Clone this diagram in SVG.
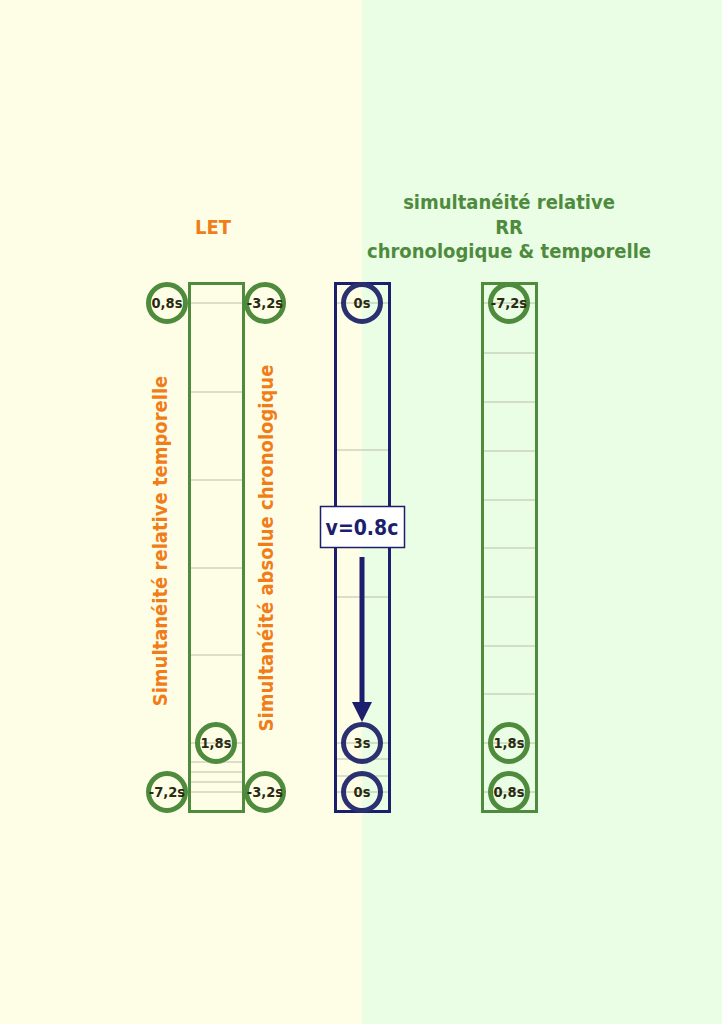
<svg xmlns="http://www.w3.org/2000/svg" width="722" height="1024" viewBox="0 0 722 1024">
<defs>
<style>
.g{fill:none;stroke:#4E8B3D;stroke-width:3}
.b{fill:none;stroke:#1C1F6E;stroke-width:3}
.tick{stroke:#B8C0A8;stroke-width:1}
.cg{fill:none;stroke:#4E8B3D;stroke-width:5}
.cb{fill:none;stroke:#2B3170;stroke-width:5}
.f{font-family:"DejaVu Sans Condensed","DejaVu Sans",Verdana,sans-serif;font-stretch:condensed;font-weight:bold;text-anchor:middle}
.lbl{font-size:14.5px;fill:#2A2A12}
.or{font-size:20px;fill:#F07D1A}
.gt{font-size:20px;fill:#4E8B3D}
</style>
<marker id="ah" markerWidth="4" markerHeight="4" refX="0" refY="2" orient="auto" markerUnits="strokeWidth">
<path d="M0,0 L4,2 L0,4 z" fill="#1C1F6E"/>
</marker>
</defs>
<rect x="0" y="0" width="362" height="1024" fill="#FEFEE6"/>
<rect x="362" y="0" width="360" height="1024" fill="#EAFDE5"/>

<text class="f or" x="213" y="234">LET</text>
<g id="title">
<text class="f gt" x="509" y="209">simultanéité relative</text>
<text class="f gt" x="509" y="234">RR</text>
<text class="f gt" x="509" y="258">chronologique &amp; temporelle</text>
</g>
<text class="f or" transform="translate(167,541) rotate(-90)">Simultanéité relative temporelle</text>
<text class="f or" transform="translate(273,548) rotate(-90)" font-size="20.4">Simultanéité absolue chronologique</text>

<g id="col-left">
<rect x="189.5" y="283.5" width="54" height="528" fill="#FEFEE6" class="g"/>
<g class="tick">
<line x1="191" y1="303" x2="242" y2="303"/>
<line x1="191" y1="392" x2="242" y2="392"/>
<line x1="191" y1="480" x2="242" y2="480"/>
<line x1="191" y1="568" x2="242" y2="568"/>
<line x1="191" y1="655" x2="242" y2="655"/>
<line x1="191" y1="743" x2="242" y2="743"/>
<line x1="191" y1="762" x2="242" y2="762"/>
<line x1="191" y1="772" x2="242" y2="772"/>
<line x1="191" y1="782" x2="242" y2="782"/>
<line x1="191" y1="792" x2="242" y2="792"/>
</g>
</g>

<g id="col-mid">
<rect x="335.5" y="283.5" width="54" height="528" fill="none" class="b"/>
<g class="tick">
<line x1="337" y1="303" x2="388" y2="303"/>
<line x1="337" y1="450" x2="388" y2="450"/>
<line x1="337" y1="597" x2="388" y2="597"/>
<line x1="337" y1="743" x2="388" y2="743"/>
<line x1="337" y1="759" x2="388" y2="759"/>
<line x1="337" y1="776" x2="388" y2="776"/>
<line x1="337" y1="792" x2="388" y2="792"/>
</g>
</g>

<g id="col-right">
<rect x="482.5" y="283.5" width="54" height="528" fill="#EAFDE5" class="g"/>
<g class="tick">
<line x1="484" y1="303" x2="535" y2="303"/>
<line x1="484" y1="353" x2="535" y2="353"/>
<line x1="484" y1="402" x2="535" y2="402"/>
<line x1="484" y1="451" x2="535" y2="451"/>
<line x1="484" y1="500" x2="535" y2="500"/>
<line x1="484" y1="548" x2="535" y2="548"/>
<line x1="484" y1="597" x2="535" y2="597"/>
<line x1="484" y1="646" x2="535" y2="646"/>
<line x1="484" y1="694" x2="535" y2="694"/>
<line x1="484" y1="743" x2="535" y2="743"/>
<line x1="484" y1="792" x2="535" y2="792"/>
</g>
</g>

<g id="connectors">
<line x1="362" y1="557" x2="362" y2="702" stroke="#1C1F6E" stroke-width="5" marker-end="url(#ah)"/>
</g>

<g id="speed">
<rect x="320.5" y="506.5" width="84" height="41" fill="#FFFFFF" stroke="#1C1F6E" stroke-width="1.5"/>
<text class="f" x="362" y="535" font-size="21" fill="#1C1F6E">v=0.8c</text>
</g>

<g id="n-l1"><circle cx="167" cy="303" r="18.5" class="cg" fill="#FEFEE6"/><text class="f lbl" x="167" y="308">0,8s</text></g>
<g id="n-l2"><circle cx="265" cy="303" r="18.5" class="cg" fill="#FEFEE6"/><text class="f lbl" x="265" y="308">-3,2s</text></g>
<g id="n-l3"><circle cx="216" cy="743" r="18.5" class="cg" fill="#FEFEE6"/><text class="f lbl" x="216" y="748">1,8s</text></g>
<g id="n-l4"><circle cx="167" cy="792" r="18.5" class="cg" fill="#FEFEE6"/><text class="f lbl" x="167" y="797">-7,2s</text></g>
<g id="n-l5"><circle cx="265" cy="792" r="18.5" class="cg" fill="#FEFEE6"/><text class="f lbl" x="265" y="797">-3,2s</text></g>

<g id="n-m1"><circle cx="362" cy="303" r="18.5" class="cb" fill="#FEFEE6"/><text class="f lbl" x="362" y="308">0s</text></g>
<g id="n-m2"><circle cx="362" cy="743" r="18.5" class="cb" fill="#FEFEE6"/><text class="f lbl" x="362" y="748">3s</text></g>
<g id="n-m3"><circle cx="362" cy="792" r="18.5" class="cb" fill="#FEFEE6"/><text class="f lbl" x="362" y="797">0s</text></g>

<g id="n-r1"><circle cx="509" cy="303" r="18.5" class="cg" fill="#EAFDE5"/><text class="f lbl" x="509" y="308">-7,2s</text></g>
<g id="n-r2"><circle cx="509" cy="743" r="18.5" class="cg" fill="#EAFDE5"/><text class="f lbl" x="509" y="748">1,8s</text></g>
<g id="n-r3"><circle cx="509" cy="792" r="18.5" class="cg" fill="#EAFDE5"/><text class="f lbl" x="509" y="797">0,8s</text></g>
</svg>
